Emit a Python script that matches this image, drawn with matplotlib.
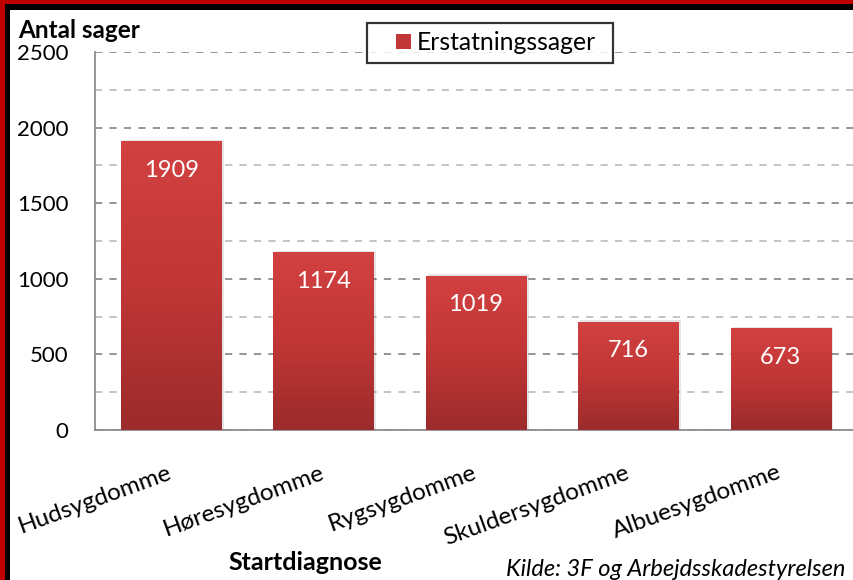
import numpy as np
import matplotlib
matplotlib.use("Agg")
import matplotlib.pyplot as plt
import matplotlib.transforms as mtransforms
from matplotlib.patches import Rectangle
from matplotlib.colors import LinearSegmentedColormap
from matplotlib.legend_handler import HandlerPatch

categories = ["Hudsygdomme", "Høresygdomme", "Rygsygdomme", "Skuldersygdomme", "Albuesygdomme"]
values = [1909, 1174, 1019, 716, 673]
series_name = "Erstatningssager"
yticks = [0, 500, 1000, 1500, 2000, 2500]

plt.rcParams['font.family'] = ['Lato', 'DejaVu Sans']

fig = plt.figure(figsize=(8.54, 5.8), dpi=100)
W, H = 854, 580
ax = fig.add_axes([95 / W, 1 - 430 / H, (857 - 95) / W, (430 - 52) / H])

x = np.arange(len(categories))
bars = ax.bar(x, values, width=0.66, color="#c83838", zorder=3, linewidth=0)

cmap = LinearSegmentedColormap.from_list("g", ["#9c2b2b", "#c13636", "#d24141"])
grad = np.linspace(0, 1, 256).reshape(-1, 1)
for b in bars:
    bx, by = b.get_x(), b.get_y()
    bw, bh = b.get_width(), b.get_height()
    sh = Rectangle((bx + 0.015, by), bw, bh + 10, facecolor="#000000", alpha=0.10, zorder=2, linewidth=0)
    ax.add_patch(sh)
    im = ax.imshow(grad, cmap=cmap, origin="lower", aspect="auto",
                   extent=(bx, bx + bw, by, by + bh), zorder=4)
    im.set_clip_path(b)

for xi, v in zip(x, values):
    ax.annotate(str(v), (xi, v), xytext=(0, -29 * 0.72), textcoords="offset points",
                ha="center", va="center", color="white", fontsize=17, zorder=5)

ax.set_xlim(-0.5, len(categories) - 0.5)
ax.set_ylim(0, 2500)
ax.set_yticks(yticks)
ax.set_yticks(np.arange(250, 2500, 500), minor=True)
ax.set_yticklabels([str(t) for t in yticks], fontsize=16)
ax.tick_params(axis="y", which="both", length=0, pad=19)
ax.yaxis.grid(True, which="major", linestyle=(0, (4, 4)), color="#8c8c8c", linewidth=1.3, zorder=0)
ax.yaxis.grid(True, which="minor", linestyle=(0, (4, 4)), color="#bfbfbf", linewidth=1.3, zorder=0)
ax.set_axisbelow(True)

ax.set_xticks(x)
ax.set_xticklabels(categories, fontsize=17.5, rotation=20, ha="right", rotation_mode="anchor")
ax.tick_params(axis="x", length=0, pad=23)
offset = mtransforms.ScaledTranslation(-4 / 100, 0, fig.dpi_scale_trans)
for lbl in ax.get_xticklabels():
    lbl.set_transform(lbl.get_transform() + offset)

for s in ["top", "right"]:
    ax.spines[s].set_visible(False)
ax.spines["left"].set_color("#8c8c8c")
ax.spines["bottom"].set_color("#8c8c8c")
ax.spines["left"].set_linewidth(1.3)
ax.spines["bottom"].set_linewidth(1.3)

fig.text(18 / W, 1 - 30 / H, "Antal sager", fontsize=17.5, fontweight="bold", va="center", ha="left")
fig.text(305 / W, 1 - 563 / H, "Startdiagnose", fontsize=18, fontweight="bold", va="center", ha="center")
fig.text(845 / W, 1 - 569 / H, "Kilde: 3F og Arbejdsskadestyrelsen", fontsize=17, style="italic",
         va="center", ha="right")


def make_square(legend, orig_handle, xdescent, ydescent, width, height, fontsize):
    s = 15 * 0.72
    return Rectangle((-xdescent + width - s, -ydescent + (height - s) / 2), s, s)


leg = fig.legend([Rectangle((0, 0), 1, 1, facecolor="#c13636", linewidth=0)], [series_name],
                 loc="center left", bbox_to_anchor=(367 / W, 1 - 67 / H, 246 / W, 48 / H),
                 mode="expand", fontsize=17.8,
                 frameon=True, fancybox=False, handlelength=1.43, handleheight=0.7,
                 handletextpad=0.24, borderpad=0.35, borderaxespad=0,
                 handler_map={Rectangle: HandlerPatch(patch_func=make_square)})
leg.get_frame().set_edgecolor("black")
leg.get_frame().set_linewidth(1.6)

# borders
fig.patches.append(Rectangle((0, 0), 5 / W, 1, transform=fig.transFigure, facecolor="#c00000", zorder=10))
fig.patches.append(Rectangle((5 / W, 0), 5 / W, 1 - 4 / H, transform=fig.transFigure, facecolor="black", zorder=10))
fig.patches.append(Rectangle((0, 1 - 4 / H), 1, 4 / H, transform=fig.transFigure, facecolor="#c00000", zorder=10))
fig.patches.append(Rectangle((5 / W, 1 - 10 / H), 1, 6 / H, transform=fig.transFigure, facecolor="black", zorder=10))

fig.savefig("out.png", dpi=100)
